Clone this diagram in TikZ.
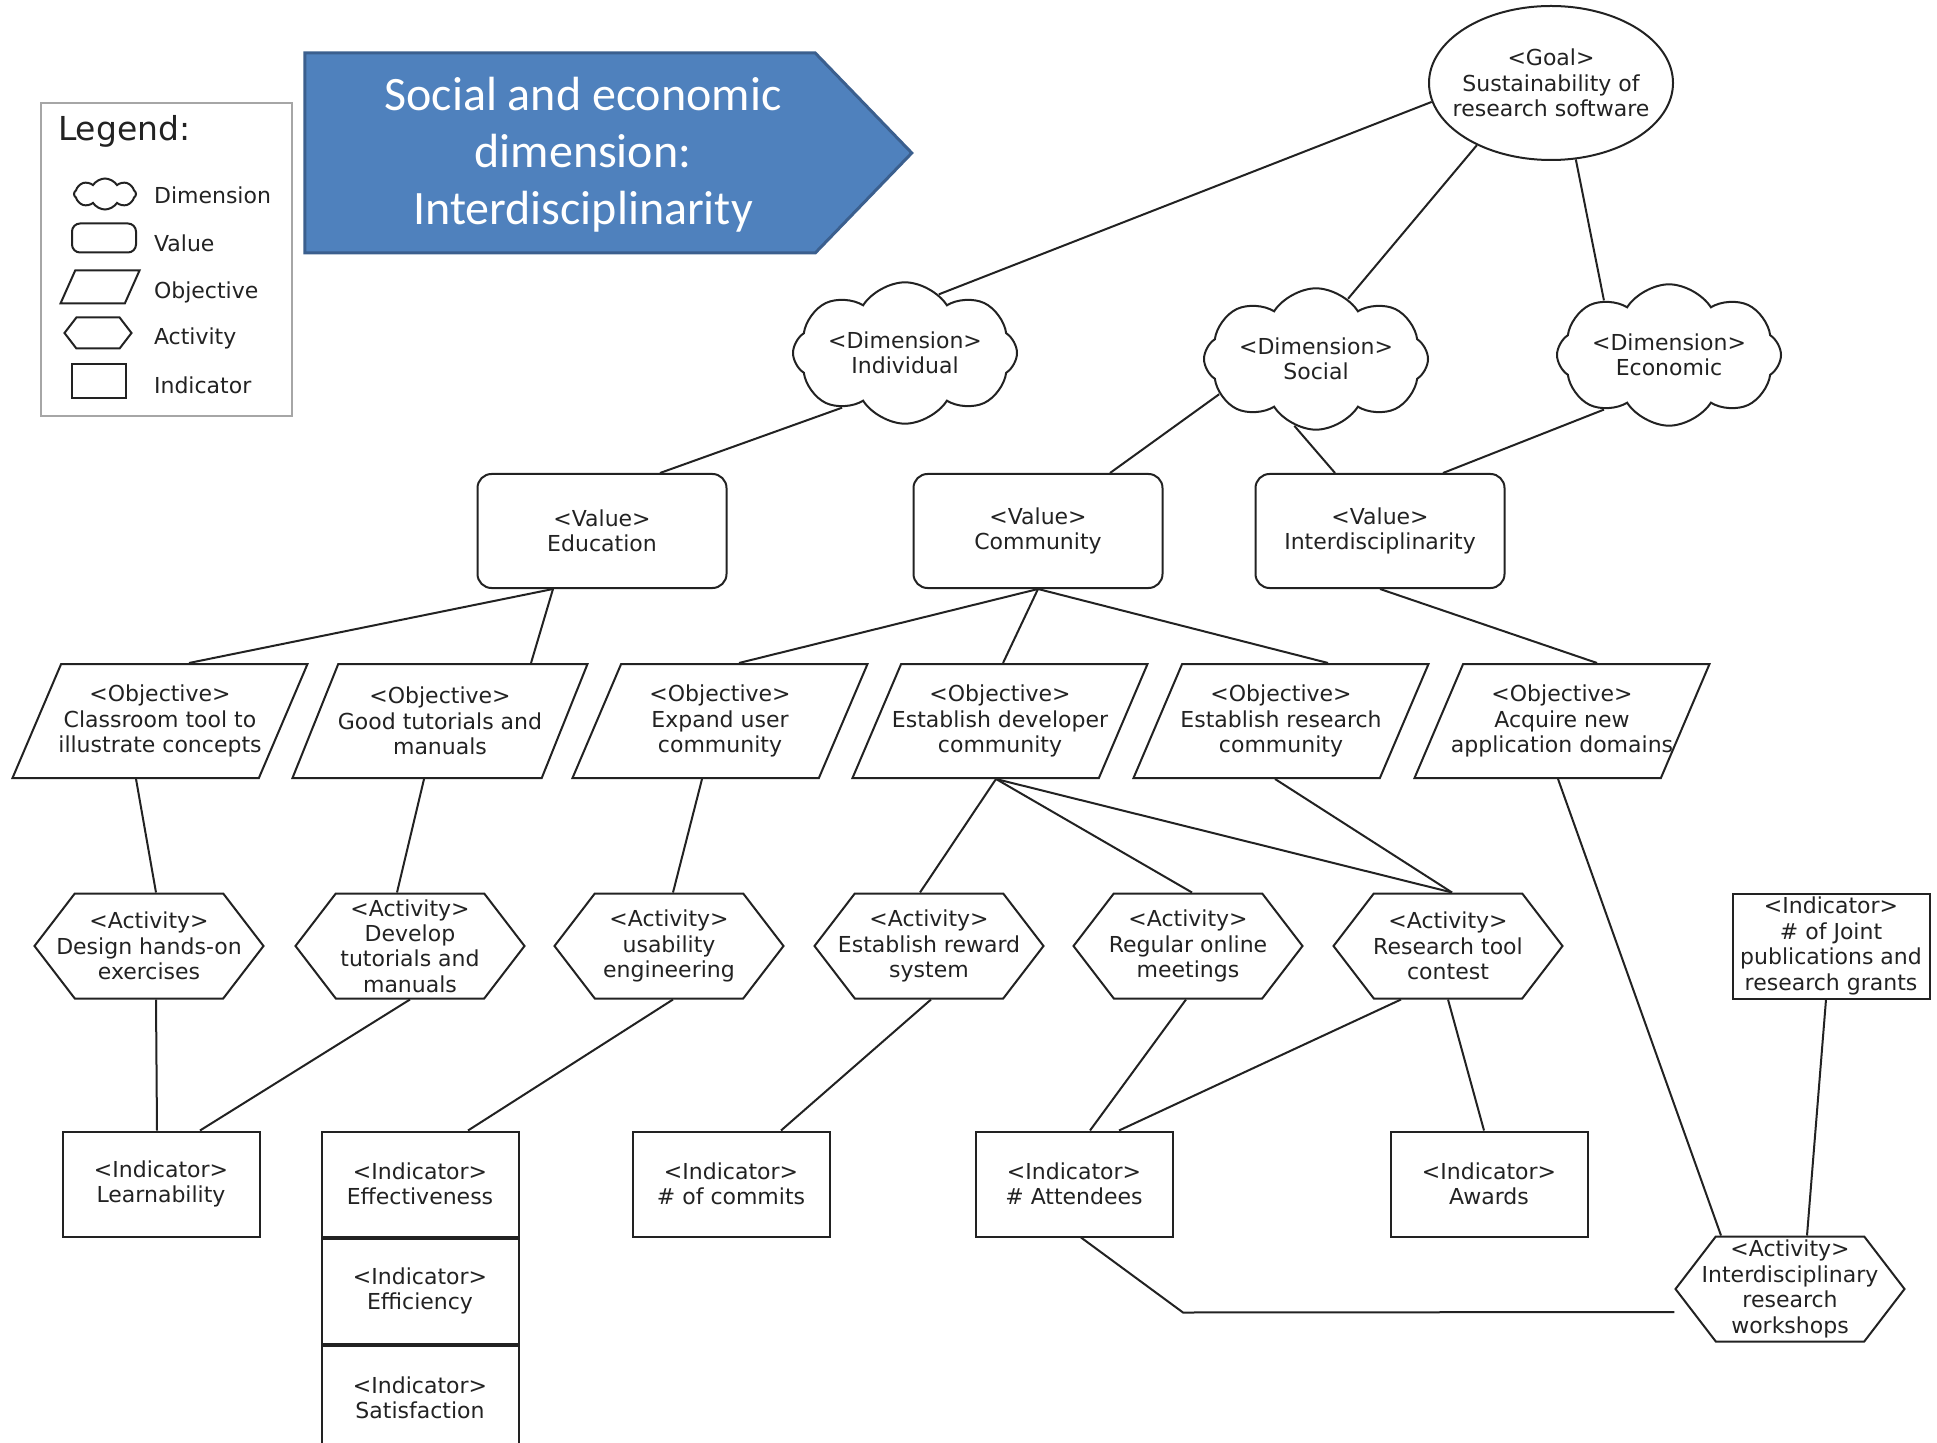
\documentclass[tikz,border=0pt]{standalone}
\usepackage{fontspec}
\setmainfont{DejaVu Sans}
\newfontfamily\titlefont{Carlito}
\usetikzlibrary{shapes.geometric,shapes.symbols,positioning}

\definecolor{titleblue}{HTML}{4F81BD}
\definecolor{titleedge}{HTML}{3B5F8E}
\definecolor{inkgray}{HTML}{222222}

\tikzset{
  base/.style={draw=inkgray, line width=1pt, align=center, inner sep=0pt, text=inkgray,
    font=\fontsize{11}{12.7}\selectfont},
  goalnode/.style={base, ellipse, inner xsep=-9pt, minimum width=122pt, minimum height=77pt},
  dimnode/.style={base, cloud, cloud puffs=8, cloud puff arc=115, aspect=2.1,
    inner ysep=-1pt, minimum width=112pt, minimum height=60pt},
  valnode/.style={base, rounded corners=7pt, minimum width=124.5pt, minimum height=57pt},
  objnode/.style={base, trapezium, trapezium left angle=56, trapezium right angle=124,
    trapezium stretches body, inner xsep=-8pt, minimum width=147.5pt, minimum height=57pt},
  actnode/.style={base, signal, signal to=east and west, signal pointer angle=105,
    inner xsep=-20pt, minimum width=114.5pt, minimum height=52.5pt},
  indnode/.style={base, rectangle, minimum width=98.5pt, minimum height=52.5pt},
  link/.style={draw=inkgray, line width=1pt},
  legtext/.style={anchor=west, text=inkgray, font=\fontsize{11}{12.7}\selectfont}
}

\begin{document}
\begin{tikzpicture}[x=0.5pt,y=-0.5pt]
\useasboundingbox (0,0) rectangle (1937,1443);

% banner
\node[signal, signal to=east, signal pointer angle=92, fill=titleblue, draw=titleedge,
  line width=1.5pt, inner sep=0pt, minimum width=303.5pt, minimum height=100pt] (banner) at (560,153) {};
\node[text=white, align=center, font=\titlefont\fontsize{24}{28.5}\selectfont] (bannertxt) at (583,155)
  {Social and economic\\dimension:\\Interdisciplinarity};

% legend
\draw[gray!70, line width=1.3pt] (41,103) rectangle (292,416);
\node[anchor=west, text=inkgray, font=\fontsize{16.5}{18}\selectfont] (legtitle) at (51,131) {Legend:};
\node[dimnode, cloud puffs=8, aspect=1.8, inner sep=0pt, minimum width=31pt, minimum height=15.5pt] (kdim) at (105,194) {};
\node[valnode, rounded corners=4pt, minimum width=32pt, minimum height=14.5pt] (kval) at (104,238) {};
\node[objnode, trapezium left angle=66, trapezium right angle=114, inner xsep=0pt, inner ysep=8.25pt,
  minimum width=39.5pt, minimum height=16.5pt] (kobj) at (100,287) {};
\node[actnode, inner sep=0pt, minimum width=33.5pt, minimum height=15.5pt] (kact) at (98,333) {};
\node[indnode, minimum width=27pt, minimum height=17pt] (kind) at (99,381) {};
\node[legtext] (ldim) at (147,195) {Dimension};
\node[legtext] (lval) at (147,243) {Value};
\node[legtext] (lobj) at (147,292) {Objective};
\node[legtext] (lact) at (147,338) {Activity};
\node[legtext] (lind) at (147,385) {Indicator};

% goal and dimensions
\node[goalnode] (goal) at (1551,83) {<Goal>\\Sustainability of\\research software};
\node[dimnode] (ind) at (905,353) {<Dimension>\\Individual};
\node[dimnode] (soc) at (1316,359) {<Dimension>\\Social};
\node[dimnode] (eco) at (1669,355) {<Dimension>\\Economic};

% values
\node[valnode] (edu) at (602,531) {<Value>\\Education};
\node[valnode] (com) at (1038,531) {<Value>\\Community};
\node[valnode] (isc) at (1380,531) {<Value>\\Interdisciplinarity};

% objectives
\node[objnode] (cls) at (160,721) {<Objective>\\Classroom tool to\\illustrate concepts};
\node[objnode] (gtm) at (440,721) {<Objective>\\Good tutorials and\\manuals};
\node[objnode] (exp) at (720,721) {<Objective>\\Expand user\\community};
\node[objnode] (dev) at (1000,721) {<Objective>\\Establish developer\\community};
\node[objnode] (res) at (1281,721) {<Objective>\\Establish research\\community};
\node[objnode] (acq) at (1562,721) {<Objective>\\Acquire new\\application domains};

% activities
\node[actnode] (hands) at (149,946) {<Activity>\\Design hands-on\\exercises};
\node[actnode] (tut) at (410,946) {<Activity>\\Develop\\tutorials and\\manuals};
\node[actnode] (usa) at (669,946) {<Activity>\\usability\\engineering};
\node[actnode] (rew) at (929,946) {<Activity>\\Establish reward\\system};
\node[actnode] (onl) at (1188,946) {<Activity>\\Regular online\\meetings};
\node[actnode] (con) at (1448,946) {<Activity>\\Research tool\\contest};
\node[actnode] (work) at (1790,1289) {<Activity>\\Interdisciplinary\\research\\workshops};

% indicators
\node[indnode] (lrn) at (161,1184) {<Indicator>\\Learnability};
\node[indnode] (eft) at (420,1184) {<Indicator>\\Effectiveness};
\node[indnode, below=0pt of eft] (efc) {<Indicator>\\Efficiency};
\node[indnode, below=0pt of efc] (sat) {<Indicator>\\Satisfaction};
\node[indnode] (cmt) at (731,1184) {<Indicator>\\\# of commits};
\node[indnode] (att) at (1074,1184) {<Indicator>\\\# Attendees};
\node[indnode] (awd) at (1489,1184) {<Indicator>\\Awards};
\node[indnode] (jnt) at (1831,946) {<Indicator>\\\# of Joint\\publications and\\research grants};

% connectors
\draw[link] (goal.189) -- (ind.60);
\draw[link] (goal.220) -- (soc.62);
\draw[link] (goal.288) -- (eco.140);
\draw[link] (ind.221) -- ([xshift=29pt]edu.north);
\draw[link] (soc.200) -- ([xshift=36pt]com.north);
\draw[link] (soc.252) -- ([xshift=-22.5pt]isc.north);
\draw[link] (eco.220) -- ([xshift=31.5pt]isc.north);
\draw[link] ([xshift=-24.5pt]edu.south) -- ([xshift=14.5pt]cls.north);
\draw[link] ([xshift=-24.5pt]edu.south) -- ([xshift=45.5pt]gtm.north);
\draw[link] (com.south) -- ([xshift=9.5pt]exp.north);
\draw[link] (com.south) -- ([xshift=1.5pt]dev.north);
\draw[link] (com.south) -- ([xshift=23.5pt]res.north);
\draw[link] (isc.south) -- ([xshift=17.5pt]acq.north);
\draw[link] ([xshift=-12pt]cls.south) -- ([xshift=3.5pt]hands.north);
\draw[link] ([xshift=-8pt]gtm.south) -- ([xshift=-6.5pt]tut.north);
\draw[link] ([xshift=-9pt]exp.south) -- ([xshift=2pt]usa.north);
\draw[link] ([xshift=-2pt]dev.south) -- ([xshift=-4.5pt]rew.north);
\draw[link] ([xshift=-2pt]dev.south) -- ([xshift=2pt]onl.north);
\draw[link] ([xshift=-2pt]dev.south) -- ([xshift=2pt]con.north);
\draw[link] ([xshift=-3pt]res.south) -- ([xshift=2pt]con.north);
\draw[link] ([xshift=-2pt]acq.south) -- ([xshift=-34.5pt]work.north);
\draw[link] ([xshift=3.5pt]hands.south) -- ([xshift=-2pt]lrn.north);
\draw[link] (tut.south) -- ([xshift=19.5pt]lrn.north);
\draw[link] ([xshift=2pt]usa.south) -- ([xshift=24pt]eft.north);
\draw[link] ([xshift=1pt]rew.south) -- ([xshift=25pt]cmt.north);
\draw[link] ([xshift=-1pt]onl.south) -- ([xshift=8pt]att.north);
\draw[link] ([xshift=-23.5pt]con.south) -- ([xshift=22.5pt]att.north);
\draw[link] (con.south) -- ([xshift=-2.5pt]awd.north);
\draw[link] ([xshift=-2.5pt]jnt.south) -- ([xshift=8.5pt]work.north);
\draw[link] ([xshift=3.5pt]att.south) -- ++(51pt,-37.5pt) -- ([yshift=-11.5pt]work.west);
\end{tikzpicture}
\end{document}
